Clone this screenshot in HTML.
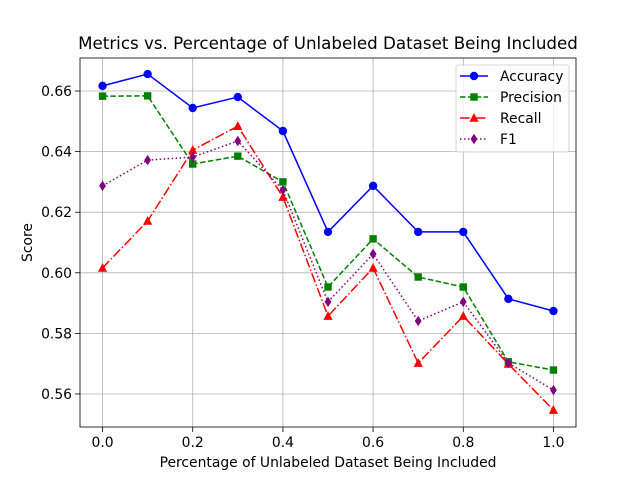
<!DOCTYPE html>
<html><head><meta charset="utf-8"><style>body{margin:0;background:#fff}svg{display:block;font-family:"DejaVu Sans","Liberation Sans",sans-serif}</style></head>
<body>
<svg id="chart" width="640" height="480"></svg>
<script>
const xs=[0,0.1,0.2,0.3,0.4,0.5,0.6,0.7,0.8,0.9,1.0];
const accuracy=[0.6617,0.6656,0.6544,0.658,0.6468,0.6135,0.6287,0.6135,0.6135,0.5914,0.5874];
const precision=[0.6583,0.6584,0.6359,0.6385,0.630,0.5953,0.6112,0.5986,0.5953,0.5706,0.5679];
const recall=[0.6016,0.6171,0.6405,0.6484,0.625,0.5857,0.6016,0.5702,0.5857,0.5699,0.5547];
const f1=[0.6287,0.6372,0.6382,0.6435,0.6273,0.5904,0.6062,0.5841,0.5904,0.5702,0.5613];
const xTicks=[0,0.2,0.4,0.6,0.8,1.0];
const yTicks=[0.56,0.58,0.60,0.62,0.64,0.66];
const L=80,R=576,T=58,B=427,x0=-0.05,x1=1.05,y0=0.5491,y1=0.6709;
const X=v=>L+(v-x0)/(x1-x0)*(R-L), Y=v=>B-(v-y0)/(y1-y0)*(B-T);
const svg=document.getElementById('chart');const NS='http://www.w3.org/2000/svg';
function mk(t,a,p){const e=document.createElementNS(NS,t);for(const k in a)e.setAttribute(k,a[k]);(p||svg).appendChild(e);return e;}
mk('rect',{x:0,y:0,width:640,height:480,fill:'#fff'});
xTicks.forEach(t=>{const x=X(t);
const g=mk('line',{x1:x,x2:x,y1:T,y2:B,stroke:'#b0b0b0','stroke-width':0.8});

mk('line',{x1:x,x2:x,y1:B,y2:B+5,stroke:'#000','stroke-width':0.8});
const tx=mk('text',{x:x,y:B+20,'font-size':13.9,'text-anchor':'middle'});tx.textContent=t.toFixed(1);
});
yTicks.forEach(t=>{const y=Y(t);
const g=mk('line',{x1:L,x2:R,y1:y,y2:y,stroke:'#b0b0b0','stroke-width':0.8});

mk('line',{x1:L-5,x2:L,y1:y,y2:y,stroke:'#000','stroke-width':0.8});
const tx=mk('text',{x:L-8,y:y+5,'font-size':13.9,'text-anchor':'end'});tx.textContent=t.toFixed(2);
});
const series=[
{n:'Accuracy',d:accuracy,c:'#0000ff',dash:'',m:'circle'},
{n:'Precision',d:precision,c:'#008000',dash:'5.5,2.4',m:'square'},
{n:'Recall',d:recall,c:'#ff0000',dash:'9.6,2.4,1.5,2.4',m:'tri'},
{n:'F1',d:f1,c:'#800080',dash:'1.5,2.5',m:'diamond'}];
function marker(m,x,y,c,p){let e;
if(m==='circle')e=mk('circle',{cx:x,cy:y,r:4.2,fill:c},p);
else if(m==='square')e=mk('rect',{x:x-3.7,y:y-3.7,width:7.4,height:7.4,fill:c},p);
else if(m==='tri')e=mk('polygon',{points:`${x},${y-5} ${x+4.6},${y+3.8} ${x-4.6},${y+3.8}`,fill:c},p);
else e=mk('polygon',{points:`${x},${y-5.2} ${x+3.4},${y} ${x},${y+5.2} ${x-3.4},${y}`,fill:c},p);
return e;}
series.forEach(s=>{const g=mk('g',{});
const pl=mk('polyline',{points:s.d.map((v,i)=>X(xs[i])+','+Y(v)).join(' '),fill:'none',stroke:s.c,'stroke-width':1.5,'stroke-dasharray':s.dash},g);

s.d.forEach((v,i)=>{const e=marker(s.m,X(xs[i]),Y(v),s.c,g);
});});
const fr=mk('rect',{x:L,y:T,width:R-L,height:B-T,fill:'none',stroke:'#000','stroke-width':0.8});

const title=mk('text',{x:(L+R)/2,y:T-9,'font-size':16.7,'text-anchor':'middle'});title.textContent='Metrics vs. Percentage of Unlabeled Dataset Being Included';

const xl=mk('text',{x:(L+R)/2,y:467,'font-size':13.9,'text-anchor':'middle'});xl.textContent='Percentage of Unlabeled Dataset Being Included';

const yl=mk('text',{x:32,y:(T+B)/2,'font-size':13.9,'text-anchor':'middle',transform:`rotate(-90 32 ${(T+B)/2})`});yl.textContent='Score';

const lg=mk('g',{});
mk('rect',{x:456,y:65,width:113,height:87,rx:2,fill:'#fff','fill-opacity':0.8,stroke:'#ccc','stroke-width':0.8},lg);
series.forEach((s,i)=>{const y=76+i*21;
const e=mk('g',{},lg);
mk('line',{x1:460,x2:488,y1:y,y2:y,stroke:s.c,'stroke-width':1.5,'stroke-dasharray':s.dash},e);
marker(s.m,474,y,s.c,e);
const t=mk('text',{x:500,y:y+5,'font-size':13.9},e);t.textContent=s.n;});
</script>
</body></html>
